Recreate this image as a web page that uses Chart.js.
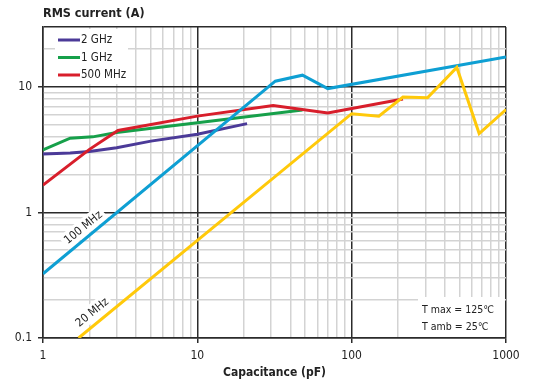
<!DOCTYPE html>
<html>
<head>
<meta charset="utf-8">
<script src="https://cdn.jsdelivr.net/npm/chart.js@4"></script>
<style>
  html, body { margin: 0; padding: 0; background: #fff; }
  #chart { display: block; }
</style>
</head>
<body>
<canvas id="chart" width="536" height="387"></canvas>
<script>
// ─── Data ────────────────────────────────────────
const ghz2Cap = [1, 1.5, 2, 3, 5, 10, 21];
const ghz2Amp = [2.92, 2.98, 3.06, 3.28, 3.7, 4.2, 5.1];

const ghz1Cap = [1, 1.5, 2.1, 3, 10, 48];
const ghz1Amp = [3.15, 3.9, 4.0, 4.33, 5.18, 6.55];

const mhz500Cap = [1, 2, 3.06, 10, 31, 70, 215];
const mhz500Amp = [1.65, 3.18, 4.5, 5.85, 7.1, 6.2, 8.0];

const mhz100Cap = [1, 32, 48, 70, 1000];
const mhz100Amp = [0.325, 11.1, 12.4, 9.7, 17.3];

const mhz20Cap = [1.7, 100, 150, 215, 310, 480, 670, 1000];
const mhz20Amp = [0.1, 6.12, 5.85, 8.3, 8.2, 14.3, 4.25, 6.6];

// grid lines and labelled ticks
const xGrid = [1, 2, 3, 4, 5, 6, 7, 8, 9, 10, 20, 30, 40, 50, 60, 70, 80, 90,
               100, 200, 300, 400, 500, 600, 700, 800, 900, 1000];
const yGrid = [0.1, 0.2, 0.3, 0.4, 0.5, 0.6, 0.7, 0.8, 0.9, 1, 2, 3, 4, 5, 6, 7, 8, 9,
               10, 20, 30];
const xTickLabels = ['1', '10', '100', '1000'];
const yTickLabels = ['0.1', '1', '10'];

const FONT = "'Liberation Sans Narrow', 'DejaVu Sans Condensed', sans-serif";
const DARK = '#2b2b2b';
const LIGHT = '#d3d3d3';

const COLORS = {
  ghz2: '#4b3a98',
  ghz1: '#16a04a',
  mhz500: '#d81e2b',
  mhz100: '#0e9fd3',
  mhz20: '#ffc90a',
};

function pts(xs, ys) {
  return xs.map((x, i) => ({ x, y: ys[i] }));
}

function isDecade(v) {
  const l = Math.log10(v);
  return Math.abs(l - Math.round(l)) < 1e-9;
}

function labelFor(v, labels) {
  const s = labels.find(l => Math.abs(parseFloat(l) - v) < 1e-9);
  return s === undefined ? '' : s;
}

// ─── Overlay: legend, line labels, conditions box ─
const overlays = {
  id: 'overlays',
  beforeDatasetsDraw(chart) {
    const { ctx, scales: { x, y } } = chart;
    ctx.save();

    // legend
    ctx.fillStyle = '#fff';
    ctx.fillRect(55, 29, 73, 55);
    const items = [
      ['2 GHz', COLORS.ghz2, 40],
      ['1 GHz', COLORS.ghz1, 57.5],
      ['500 MHz', COLORS.mhz500, 75],
    ];
    ctx.font = `11.5px ${FONT}`;
    ctx.textBaseline = 'middle';
    ctx.textAlign = 'left';
    items.forEach(([txt, col, yy]) => {
      ctx.strokeStyle = col;
      ctx.lineWidth = 3;
      ctx.beginPath();
      ctx.moveTo(58, yy);
      ctx.lineTo(80, yy);
      ctx.stroke();
      ctx.fillStyle = '#222';
      ctx.fillText(txt, 81, yy + 0.5);
    });

    // rotated line labels
    const dx = x.getPixelForValue(10) - x.getPixelForValue(1);
    const dy = y.getPixelForValue(1) - y.getPixelForValue(10);
    const ang = -Math.atan2(dy, dx);
    [['100 MHz', 1.82, 0.76], ['20 MHz', 2.08, 0.16]].forEach(([txt, cx, cy]) => {
      ctx.save();
      ctx.translate(x.getPixelForValue(cx), y.getPixelForValue(cy));
      ctx.rotate(ang);
      const w = ctx.measureText(txt).width;
      ctx.fillStyle = '#fff';
      ctx.fillRect(-w / 2 - 3, -8, w + 6, 16);
      ctx.fillStyle = '#222';
      ctx.textAlign = 'center';
      ctx.fillText(txt, 0, 0.5);
      ctx.restore();
    });

    // conditions box
    ctx.fillStyle = '#fff';
    ctx.fillRect(418, 297, x.right - 419, y.bottom - 298);
    ctx.font = `10.5px ${FONT}`;
    ctx.fillStyle = '#222';
    ctx.textAlign = 'left';
    ctx.fillText('T max = 125℃', 422, 310);
    ctx.fillText('T amb = 25℃', 422, 327);

    ctx.restore();
  },
};

const lineDs = (label, data, color) => ({
  label,
  data,
  borderColor: color,
  backgroundColor: color,
  borderWidth: 3,
  pointRadius: 0,
  tension: 0,
  fill: false,
});

new Chart(document.getElementById('chart'), {
  type: 'line',
  data: {
    datasets: [
      lineDs('20 MHz', pts(mhz20Cap, mhz20Amp), COLORS.mhz20),
      lineDs('100 MHz', pts(mhz100Cap, mhz100Amp), COLORS.mhz100),
      lineDs('500 MHz', pts(mhz500Cap, mhz500Amp), COLORS.mhz500),
      lineDs('1 GHz', pts(ghz1Cap, ghz1Amp), COLORS.ghz1),
      lineDs('2 GHz', pts(ghz2Cap, ghz2Amp), COLORS.ghz2),
    ],
  },
  options: {
    responsive: false,
    animation: false,
    layout: { padding: { top: 0, right: 30, bottom: 0, left: 0 } },
    plugins: {
      legend: { display: false },
      tooltip: { enabled: false },
      title: {
        display: true,
        text: 'RMS current (A)',
        align: 'start',
        fullSize: false,
        color: '#222',
        font: { family: FONT, size: 12.5, weight: 'bold', lineHeight: 1.2 },
        padding: { top: 6, bottom: 6 },
      },
    },
    scales: {
      x: {
        type: 'logarithmic',
        min: 1,
        max: 1000,
        afterBuildTicks: s => { s.ticks = xGrid.map(v => ({ value: v, major: isDecade(v) })); },
        afterFit: s => { s.height = 49; },
        border: { display: true, color: DARK, width: 1.5 },
        grid: {
          color: c => (c.tick && isDecade(c.tick.value) ? DARK : LIGHT),
          lineWidth: 1.5,
          tickColor: c => (c.tick && isDecade(c.tick.value) ? DARK : 'rgba(0,0,0,0)'),
          tickLength: 5,
        },
        ticks: {
          autoSkip: false,
          maxRotation: 0,
          padding: 6,
          color: '#222',
          font: { family: FONT, size: 12 },
          callback: v => labelFor(v, xTickLabels),
        },
        title: {
          display: true,
          text: 'Capacitance (pF)',
          color: '#222',
          font: { family: FONT, size: 12, weight: 'bold', lineHeight: 1.2 },
          padding: { top: 0, bottom: 6.5 },
        },
      },
      y: {
        type: 'logarithmic',
        min: 0.1,
        max: 30,
        afterBuildTicks: s => { s.ticks = yGrid.map(v => ({ value: v, major: isDecade(v) })); },
        afterFit: s => { s.width = 43; },
        border: { display: true, color: DARK, width: 1.5 },
        grid: {
          color: c => (c.tick && (isDecade(c.tick.value) || c.tick.value === 30) ? DARK : LIGHT),
          lineWidth: 1.5,
          tickColor: c => (c.tick && isDecade(c.tick.value) ? DARK : 'rgba(0,0,0,0)'),
          tickLength: 5,
        },
        ticks: {
          autoSkip: false,
          padding: 6,
          color: '#222',
          font: { family: FONT, size: 12 },
          callback: v => labelFor(v, yTickLabels),
        },
      },
    },
  },
  plugins: [overlays],
});
</script>
</body>
</html>
